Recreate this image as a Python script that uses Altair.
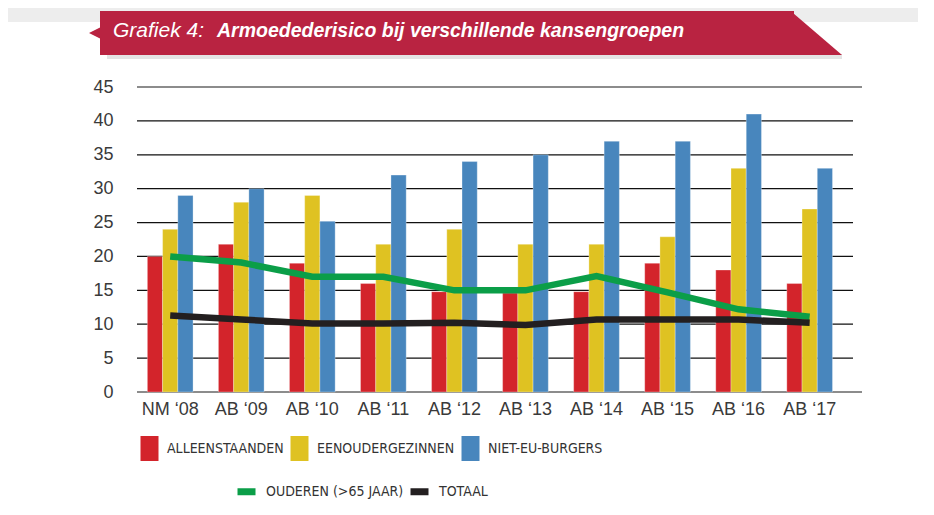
import altair as alt
import pandas as pd

# ---- data ----
categories = ["NM ‘08", "AB ‘09", "AB ‘10", "AB ‘11", "AB ‘12",
              "AB ‘13", "AB ‘14", "AB ‘15", "AB ‘16", "AB ‘17"]
alleenstaanden = [20, 21.8, 19, 16, 14.8, 14.6, 14.8, 19, 18, 16]
eenoudergezinnen = [24, 28, 29, 21.8, 24, 21.8, 21.8, 22.9, 33, 27]
niet_eu_burgers = [29, 30, 25.2, 32, 34, 35, 37, 37, 41, 33]
ouderen = [20, 19.1, 17, 17, 15, 15, 17.1, 14.7, 12.2, 11.1]
totaal = [11.3, 10.7, 10.1, 10.1, 10.2, 9.9, 10.7, 10.7, 10.7, 10.2]

bar_series = ["ALLEENSTAANDEN", "EENOUDERGEZINNEN", "NIET-EU-BURGERS"]
bar_colors = ["#d3242b", "#dfc222", "#4886bd"]
line_series = ["OUDEREN (>65 JAAR)", "TOTAAL"]
line_colors = ["#0b9e48", "#231f20"]
y_ticks = [0, 5, 10, 15, 20, 25, 30, 35, 40, 45]
title_prefix = "Grafiek 4:"
title_main = "Armoedederisico bij verschillende kansengroepen"

bar_values = [alleenstaanden, eenoudergezinnen, niet_eu_burgers]
line_values = [ouderen, totaal]

bars_df = pd.DataFrame(
    [{"cat": c, "series": s, "value": v}
     for s, vals in zip(bar_series, bar_values)
     for c, v in zip(categories, vals)]
)
lines_df = pd.DataFrame(
    [{"cat": c, "series": s, "value": v}
     for s, vals in zip(line_series, line_values)
     for c, v in zip(categories, vals)]
)
grid_df = pd.DataFrame({"tick": y_ticks})
one = pd.DataFrame({"k": [0]})

AXIS_FONT = "Liberation Sans"
LEG_FONT = "DejaVu Sans Condensed, Liberation Sans, sans-serif"

x_axis = alt.Axis(title=None, labelAngle=0, ticks=False, domain=False, grid=False,
                  labelPadding=8, labelFontSize=18, labelFont=AXIS_FONT,
                  labelColor="#3a3a3a")
x_scale = alt.Scale(paddingInner=0.357, paddingOuter=0.2805, align=0.26)
y_axis = alt.Axis(title=None, values=y_ticks, ticks=False, domain=False, grid=False,
                  labelOverlap=False,
                  labelPadding=24, labelFontSize=18, labelFont=AXIS_FONT,
                  labelColor="#3a3a3a")
y_scale = alt.Scale(domain=[0, 45], nice=False, zero=True)

# horizontal grid lines: inner ones black and a bit shorter, 0 and 45 grey
is_edge = "datum.tick === 0 || datum.tick === 45"
grid_inner = alt.Chart(grid_df).transform_filter(f"!({is_edge})").mark_rule(
    color="#111111", strokeWidth=1.2).encode(
    y=alt.Y("tick:Q", scale=y_scale, axis=y_axis),
    x=alt.value(0), x2=alt.value(716),
)
grid_edge = alt.Chart(grid_df).transform_filter(is_edge).mark_rule(
    color="#8c8c8c", strokeWidth=2).encode(
    y=alt.Y("tick:Q", scale=y_scale, axis=y_axis),
    x=alt.value(0), x2=alt.value(725),
)

bars = alt.Chart(bars_df).mark_bar(stroke="white", strokeWidth=0.6, strokeOpacity=0.5).encode(
    x=alt.X("cat:N", sort=categories, scale=x_scale, axis=x_axis),
    xOffset=alt.XOffset("series:N", sort=bar_series,
                        scale=alt.Scale(paddingInner=0, paddingOuter=0)),
    y=alt.Y("value:Q", scale=y_scale, axis=y_axis),
    color=alt.Color(
        "series:N", sort=bar_series,
        scale=alt.Scale(domain=bar_series, range=bar_colors),
        legend=alt.Legend(
            title=None, orient="none", legendX=0, legendY=349, direction="horizontal",
            columns=3, padding=0,
            symbolType="M-0.72,-1L0.72,-1L0.72,1L-0.72,1Z", symbolSize=625,
            symbolStrokeWidth=0, symbolOpacity=1,
            labelFont=LEG_FONT, labelFontSize=14, labelColor="#333333",
            labelOffset=5, columnPadding=3, labelLimit=300,
        ),
    ),
)

lines = alt.Chart(lines_df).mark_line(strokeWidth=6.5).encode(
    x=alt.X("cat:N", sort=categories, scale=x_scale, axis=x_axis),
    y=alt.Y("value:Q", scale=y_scale, axis=y_axis),
    stroke=alt.Stroke(
        "series:N", sort=line_series,
        scale=alt.Scale(domain=line_series, range=line_colors),
        legend=alt.Legend(
            title=None, orient="none", legendX=97, legendY=392, direction="horizontal",
            columns=2, padding=0,
            symbolType="stroke", symbolSize=324, symbolStrokeWidth=7,
            labelFont=LEG_FONT, labelFontSize=14, labelColor="#333333",
            labelOffset=7, columnPadding=-8, labelLimit=300,
        ),
    ),
)

# ---- decorative header (page background strip + red ribbon + title) ----
bg_strip = alt.Chart(one).mark_rect(color="#ededed").encode(
    x=alt.value(-129), x2=alt.value(781), y=alt.value(-79), y2=alt.value(-65))
shadow = alt.Chart(one).mark_rect(color="#d9d9d9", opacity=0.7).encode(
    x=alt.value(-30), x2=alt.value(705), y=alt.value(-33), y2=alt.value(-28))
ribbon = alt.Chart(one).mark_rect(color="#b92341").encode(
    x=alt.value(-37), x2=alt.value(657), y=alt.value(-76), y2=alt.value(-32))
ribbon_notch = alt.Chart(one).mark_point(
    shape="M1,-1L1,1L-1,0Z", size=144, filled=True, color="#b92341",
    opacity=1, strokeWidth=0).encode(x=alt.value(-42), y=alt.value(-54))
ribbon_tail = alt.Chart(one).mark_point(
    shape="M-1,-0.857L1,0.857L-1,0.857Z", size=2401, filled=True, color="#b92341",
    opacity=1, strokeWidth=0).encode(x=alt.value(680.5), y=alt.value(-53))
t1 = alt.Chart(one).mark_text(
    text=title_prefix, font=AXIS_FONT, fontStyle="italic", fontSize=21,
    color="white", align="left", baseline="alphabetic").encode(
    x=alt.value(-24), y=alt.value(-50))
t2 = alt.Chart(one).mark_text(
    text=title_main, font=AXIS_FONT, fontStyle="italic", fontWeight="bold", fontSize=19.5,
    color="white", align="left", baseline="alphabetic").encode(
    x=alt.value(80), y=alt.value(-50))

chart = alt.layer(
    bg_strip, shadow, ribbon, ribbon_notch, ribbon_tail, t1, t2,
    grid_inner, grid_edge, bars, lines
).resolve_scale(
    color="independent", stroke="independent"
).properties(
    width=725, height=305, padding=0, background="white"
).configure_view(stroke=None)

chart.save("out.html", embed_options={"renderer": "svg", "actions": False})
